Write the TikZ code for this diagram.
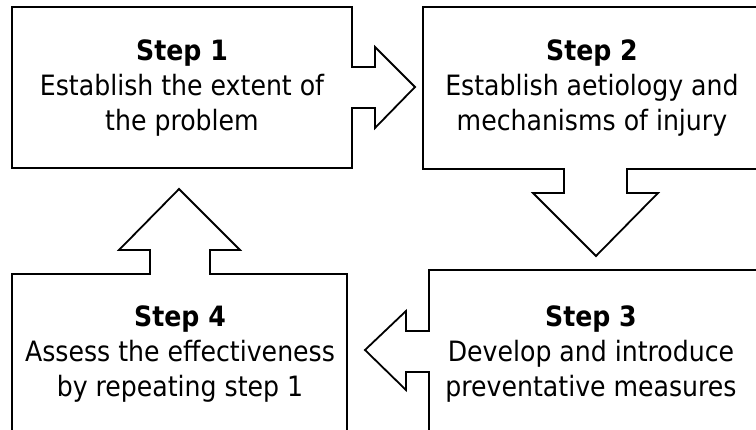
\documentclass[tikz,border=0pt]{standalone}
\usepackage{fontspec}
\setmainfont{DejaVu Sans Condensed}
\begin{document}
\begin{tikzpicture}[x=1pt,y=-1pt,
  outline/.style={draw=black, line width=1.8pt, line join=miter},
  steptext/.style={align=center, font=\fontsize{28}{35}\selectfont, inner sep=0pt}]
\useasboundingbox (0,0) rectangle (756,430);
\clip (0,0) rectangle (756,430);
\fill[white] (0,0) rectangle (756,430);
% Step 1 box with right arrow
\draw[outline] (12,7) -- (352,7) -- (352,67) -- (375,67) -- (375,47) -- (415,87)
  -- (375,128) -- (375,108) -- (352,108) -- (352,168) -- (12,168) -- cycle;
% Step 2 box with down arrow
\draw[outline] (423,7) -- (770,7) -- (770,169) -- (627,169) -- (627,193) -- (658,193)
  -- (596,256) -- (533,193) -- (564,193) -- (564,169) -- (423,169) -- cycle;
% Step 3 box with left arrow
\draw[outline] (429,440) -- (429,372) -- (406,372) -- (406,390) -- (365,350) -- (406,311)
  -- (406,331) -- (429,331) -- (429,270) -- (770,270);
% Step 4 box with up arrow
\draw[outline] (12,440) -- (12,274) -- (150,274) -- (150,250) -- (119,250) -- (179,189)
  -- (240,250) -- (210,250) -- (210,274) -- (347,274) -- (347,440);
\node[steptext] (s1) at (182,88) {\textbf{Step 1}\\Establish the extent of\\the problem};
\node[steptext] (s2) at (592,88) {\textbf{Step 2}\\Establish aetiology and\\mechanisms of injury};
\node[steptext] (s3) at (591,354) {\textbf{Step 3}\\Develop and introduce\\preventative measures};
\node[steptext] (s4) at (180,354) {\textbf{Step 4}\\Assess the effectiveness\\by repeating step 1};
\end{tikzpicture}
\end{document}
